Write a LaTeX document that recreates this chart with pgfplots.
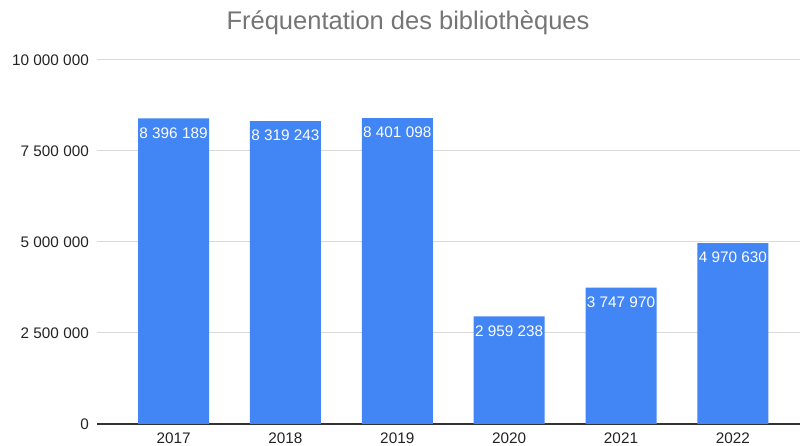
\documentclass[border=0pt]{standalone}
\usepackage{fontspec}
\setmainfont{Liberation Sans}
\usepackage{pgfplots}
\usepackage{pgfplotstable}
\pgfplotsset{compat=1.18}
\definecolor{barblue}{HTML}{4285F4}
\definecolor{titlegray}{HTML}{757575}
\definecolor{gridgray}{HTML}{D9D9D9}
\definecolor{axisgray}{HTML}{333333}
\definecolor{labelgray}{HTML}{222222}
\pgfplotstableread[col sep=comma]{
x,y,label
0,8396189,8 396 189
1,8319243,8 319 243
2,8401098,8 401 098
3,2959238,2 959 238
4,3747970,3 747 970
5,4970630,4 970 630
}\datatable
\begin{document}
\begin{tikzpicture}
\begin{axis}[
  name=ax,
  scale only axis,
  width=703pt, height=364pt,
  xmin=-0.684, xmax=5.60,
  ymin=0, ymax=10000000,
  ybar, bar width=71pt,
  xtick={0,1,2,3,4,5},
  xticklabels={2017,2018,2019,2020,2021,2022},
  ytick={0,2500000,5000000,7500000,10000000},
  yticklabels={0,2 500 000,5 000 000,7 500 000,10 000 000},
  scaled y ticks=false,
  major tick length=0pt,
  ymajorgrids,
  grid style={color=gridgray, line width=1pt},
  axis x line*=bottom,
  axis y line*=left,
  y axis line style={draw=none},
  x axis line style={color=axisgray, line width=1.2pt},
  yticklabel style={anchor=east, inner sep=0pt, xshift=-8pt, font=\fontsize{15.3}{18}\selectfont, color=labelgray},
  xticklabel style={anchor=base, inner sep=0pt, yshift=-20pt, font=\fontsize{15.3}{18}\selectfont, color=labelgray},
  every axis title shift=0pt,
  title={Fréquentation des bibliothèques},
  title style={at={(axis description cs:0.4424,1.0824)}, anchor=base, inner sep=0pt, font=\fontsize{25.5}{30}\selectfont, color=titlegray},
  point meta=explicit symbolic,
  nodes near coords,
  every node near coord/.append style={anchor=center, yshift=-14.5pt, color=white, inner sep=0pt, font=\fontsize{15.3}{18}\selectfont},
]
\addplot[fill=barblue, draw=none] table[x=x, y=y, meta=label] {\datatable};
\end{axis}
\path ([shift={(-97pt,-22pt)}]ax.south west) rectangle ([shift={(1pt,60pt)}]ax.north east);
\end{tikzpicture}
\end{document}
